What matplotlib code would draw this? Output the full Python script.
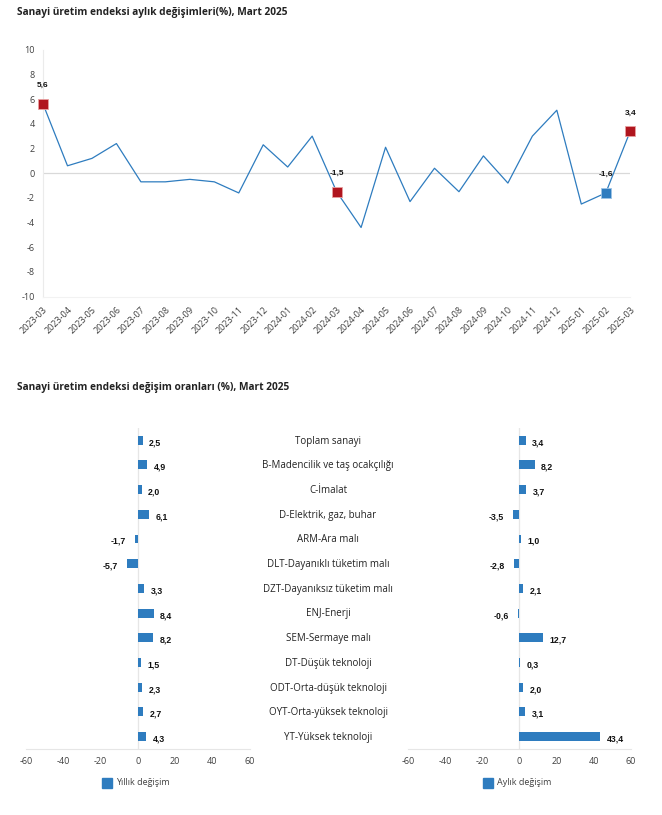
"""Sanayi üretim endeksi, Mart 2025: aylık değişim çizgisi ve değişim oranları çubukları."""

import matplotlib

matplotlib.use("Agg")
import matplotlib.pyplot as plt

plt.rcParams["font.family"] = ["Open Sans", "DejaVu Sans"]
plt.rcParams["axes.unicode_minus"] = False

MONTHS = [
    "2023-03", "2023-04", "2023-05", "2023-06", "2023-07", "2023-08",
    "2023-09", "2023-10", "2023-11", "2023-12", "2024-01", "2024-02",
    "2024-03", "2024-04", "2024-05", "2024-06", "2024-07", "2024-08",
    "2024-09", "2024-10", "2024-11", "2024-12", "2025-01", "2025-02",
    "2025-03",
]
MONTHLY_CHANGE = [
    5.6, 0.6, 1.2, 2.4, -0.7, -0.7, -0.5, -0.7, -1.6, 2.3, 0.5, 3.0,
    -1.5, -4.4, 2.1, -2.3, 0.4, -1.5, 1.4, -0.8, 3.0, 5.1, -2.5, -1.6,
    3.4,
]
RED_POINTS = ["2023-03", "2024-03", "2025-03"]
BLUE_POINTS = ["2025-02"]

SECTORS = [
    "Toplam sanayi",
    "B-Madencilik ve taş ocakçılığı",
    "C-İmalat",
    "D-Elektrik, gaz, buhar",
    "ARM-Ara malı",
    "DLT-Dayanıklı tüketim malı",
    "DZT-Dayanıksız tüketim malı",
    "ENJ-Enerji",
    "SEM-Sermaye malı",
    "DT-Düşük teknoloji",
    "ODT-Orta-düşük teknoloji",
    "OYT-Orta-yüksek teknoloji",
    "YT-Yüksek teknoloji",
]
ANNUAL = [2.5, 4.9, 2.0, 6.1, -1.7, -5.7, 3.3, 8.4, 8.2, 1.5, 2.3, 2.7, 4.3]
MONTHLY = [3.4, 8.2, 3.7, -3.5, 1.0, -2.8, 2.1, -0.6, 12.7, 0.3, 2.0, 3.1, 43.4]

BLUE = "#2E7CBF"
RED = "#B0151E"
GRID = "#D9D9D9"
TEXT = "#404040"


def fmt(v):
    return f"{v:.1f}".replace(".", ",")


fig = plt.figure(figsize=(6.62, 8.15), dpi=100)

# --- üst grafik: aylık değişim ---
fig.text(0.025, 0.985, "Sanayi üretim endeksi aylık değişimleri(%), Mart 2025",
         fontsize=7.3, fontweight="bold", color="#222222", va="center")

ax = fig.add_axes([0.065, 0.636, 0.887, 0.303])
x = list(range(len(MONTHS)))
ax.plot(x, MONTHLY_CHANGE, color=BLUE, lw=0.9, zorder=2)
for name, color in [(m, RED) for m in RED_POINTS] + [(m, BLUE) for m in BLUE_POINTS]:
    i = MONTHS.index(name)
    v = MONTHLY_CHANGE[i]
    ax.plot(i, v, marker="s", ms=7.5, color=color,
            mec="#E8A0A0" if color == RED else "#9CC3E6",
            mew=0.6, zorder=3, clip_on=False)
    ax.text(i, v + 1.2, fmt(v), ha="center", va="bottom", fontsize=6,
            fontweight="bold", family=["Liberation Sans"], color="#111111")

ax.axhline(0, color=GRID, lw=0.9, zorder=1)
ax.set_ylim(-10, 10)
ax.set_yticks(range(-10, 11, 2))
ax.set_xlim(0, len(MONTHS) - 1)
ax.set_xticks(x)
ax.set_xticklabels(MONTHS, rotation=45, ha="right", rotation_mode="anchor")
ax.tick_params(axis="both", labelsize=6.5, colors=TEXT, length=0, pad=6)
for side in ("top", "right"):
    ax.spines[side].set_visible(False)
ax.spines["left"].set_color("#EBEBEB")
ax.spines["bottom"].set_color("#F2F2F2")

# --- alt grafikler: değişim oranları ---
fig.text(0.025, 0.525, "Sanayi üretim endeksi değişim oranları (%), Mart 2025",
         fontsize=7.3, fontweight="bold", color="#222222", va="center")

positions = list(range(len(SECTORS)))


def bar_panel(rect, values, legend_label, legend_x):
    bx = fig.add_axes(rect)
    bx.barh(positions, values, height=0.36, color=BLUE, zorder=2)
    for p, v in zip(positions, values):
        if v >= 0:
            bx.text(v + 3.5, p + 0.1, fmt(v), ha="left", va="center", fontsize=6.3,
                    fontweight="bold", family=["Liberation Sans"], color="#111111")
        else:
            bx.text(v - 5, p + 0.1, fmt(v), ha="right", va="center", fontsize=6.3,
                    fontweight="bold", family=["Liberation Sans"], color="#111111")
    bx.set_xlim(-60, 60)
    bx.set_xticks(range(-60, 61, 20))
    bx.set_ylim(len(SECTORS) - 0.5, -0.5)
    bx.set_yticks([])
    bx.axvline(0, color="#E6E6E6", lw=0.9, zorder=1)
    for side in ("top", "right", "left"):
        bx.spines[side].set_visible(False)
    bx.spines["bottom"].set_color("#E6E6E6")
    bx.tick_params(axis="x", labelsize=6.5, colors=TEXT, length=0, pad=6)
    fig.patches.append(plt.Rectangle((legend_x, 0.0335), 0.0151, 0.0123,
                                     transform=fig.transFigure, color=BLUE))
    fig.text(legend_x + 0.022, 0.0395, legend_label, fontsize=6.5, color=TEXT,
             va="center")
    return bx


bar_panel([0.0393, 0.081, 0.338, 0.394], ANNUAL, "Yıllık değişim", 0.154)
bar_panel([0.616, 0.081, 0.337, 0.394], MONTHLY, "Aylık değişim", 0.729)

for p, name in zip(positions, SECTORS):
    y_fig = 0.081 + 0.394 * (1 - (p + 0.5) / len(SECTORS)) - 0.001
    fig.text(0.4955, y_fig, name, ha="center", va="center", fontsize=7,
             color="#222222")

fig.savefig("out.png", dpi=100)
